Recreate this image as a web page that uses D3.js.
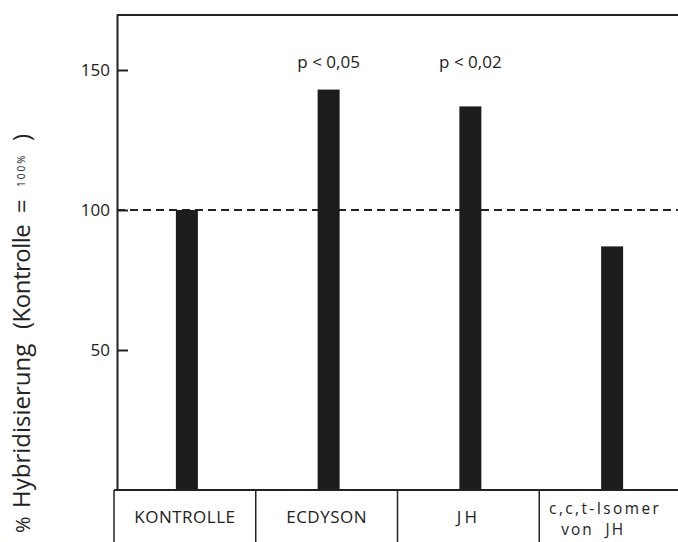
<!DOCTYPE html>
<html>
<head>
<meta charset="utf-8">
<script src="https://cdn.jsdelivr.net/npm/d3@7"></script>
<style>
  body { margin: 0; background: #fff; }
  text { font-family: "Open Sans", sans-serif; fill: #222; }
</style>
</head>
<body>
<svg></svg>
<script>
const categories = ["KONTROLLE", "ECDYSON", "JH", "c,c,t-Isomer von JH"];
const catLines = [["KONTROLLE"], ["ECDYSON"], ["JH"], ["c,c,t-Isomer", "von \u00a0JH"]];
const values = [100, 143, 137, 87];
const pLabels = ["", "p < 0,05", "p < 0,02", ""];
const yTicks = [50, 100, 150];
const refValue = 100;

const width = 678;
const height = 542;
const ink = "#222";

const svg = d3.select("svg").attr("width", width).attr("height", height);

const xScale = d3.scaleBand().domain(categories).range([114, 681]);
const yScale = d3.scaleLinear().domain([0, 170]).range([490, 14]);
const barWidth = 22;
const barX = (d) => xScale(d) + xScale.bandwidth() / 2 + 2;

// top frame line
svg.append("line")
  .attr("x1", 117).attr("x2", width)
  .attr("y1", yScale(170) + 1).attr("y2", yScale(170) + 1)
  .attr("stroke", ink).attr("stroke-width", 2);

// reference line at 100 %
svg.append("line")
  .attr("x1", 117).attr("x2", width)
  .attr("y1", yScale(refValue)).attr("y2", yScale(refValue))
  .attr("stroke", ink).attr("stroke-width", 2)
  .attr("stroke-dasharray", "8,5");

// bars
svg.selectAll(".bar")
  .data(values)
  .enter()
  .append("rect")
  .attr("class", "bar")
  .attr("x", (d, i) => barX(categories[i]) - barWidth / 2)
  .attr("y", (d) => yScale(d))
  .attr("width", barWidth)
  .attr("height", (d) => yScale(0) - yScale(d))
  .attr("fill", "#1c1c1c");

// significance labels
svg.selectAll(".plabel")
  .data(pLabels)
  .enter()
  .append("text")
  .attr("class", "plabel")
  .attr("x", (d, i) => barX(categories[i]))
  .attr("y", 68)
  .attr("text-anchor", "middle")
  .style("font-size", "17px")
  .text((d) => d);

// y axis
const yAxis = d3.axisLeft(yScale)
  .tickValues(yTicks)
  .tickSizeInner(-11)
  .tickSizeOuter(0)
  .tickPadding(7);

const gy = svg.append("g")
  .attr("transform", "translate(117, 0)")
  .call(yAxis);
gy.select(".domain").attr("stroke", ink).attr("stroke-width", 2);
gy.selectAll(".tick line").attr("stroke", ink).attr("stroke-width", 2);
gy.selectAll(".tick text")
  .style("font-size", "17px")
  .style("font-family", "'Open Sans', sans-serif")
  .attr("fill", ink);

// category table below the baseline
svg.append("line")
  .attr("x1", 114).attr("x2", width)
  .attr("y1", yScale(0)).attr("y2", yScale(0))
  .attr("stroke", ink).attr("stroke-width", 2);

svg.selectAll(".cell")
  .data(categories)
  .enter()
  .append("line")
  .attr("class", "cell")
  .attr("x1", (d) => xScale(d)).attr("x2", (d) => xScale(d))
  .attr("y1", yScale(0)).attr("y2", height)
  .attr("stroke", ink).attr("stroke-width", 1.5);

const cellMid = (i) => xScale(categories[i]) + xScale.bandwidth() / 2;

// one-line labels
svg.selectAll(".cat")
  .data(catLines.filter((l) => l.length === 1))
  .enter()
  .append("text")
  .attr("class", "cat")
  .attr("text-anchor", "middle")
  .style("font-size", "17px")
  .attr("x", (d, i) => cellMid(i))
  .attr("y", 523)
  .style("letter-spacing", (d) => (d[0] === "JH" ? "3px" : "0.5px"))
  .text((d) => d[0]);

// two-line label for the isomer
const isoLines = catLines[3];
svg.selectAll(".iso")
  .data(isoLines)
  .enter()
  .append("text")
  .attr("class", "iso")
  .attr("text-anchor", "middle")
  .style("font-size", "15.4px")
  .style("letter-spacing", (d, i) => (i === 0 ? "2.4px" : "2px"))
  .attr("x", (d, i) => cellMid(3) + (i === 0 ? -5 : -17))
  .attr("y", (d, i) => 514 + i * 21)
  .text((d) => d);

// y axis title
const title = svg.append("text")
  .attr("transform", "translate(30, 533) rotate(-90)")
  .style("font-size", "24px");
title.append("tspan").attr("x", 0).style("font-size", "20px").text("%");
title.append("tspan").attr("x", 25).text("Hybridisierung");
title.append("tspan").attr("x", 204).style("letter-spacing", "-0.5px").text("(Kontrolle");
title.append("tspan").attr("x", 320).text("=");
title.append("tspan").attr("x", 346).style("font-size", "10px").style("letter-spacing", "2px").attr("dy", -5).text("100%");
title.append("tspan").attr("x", 392).attr("dy", 5).text(")");
</script>
</body>
</html>
